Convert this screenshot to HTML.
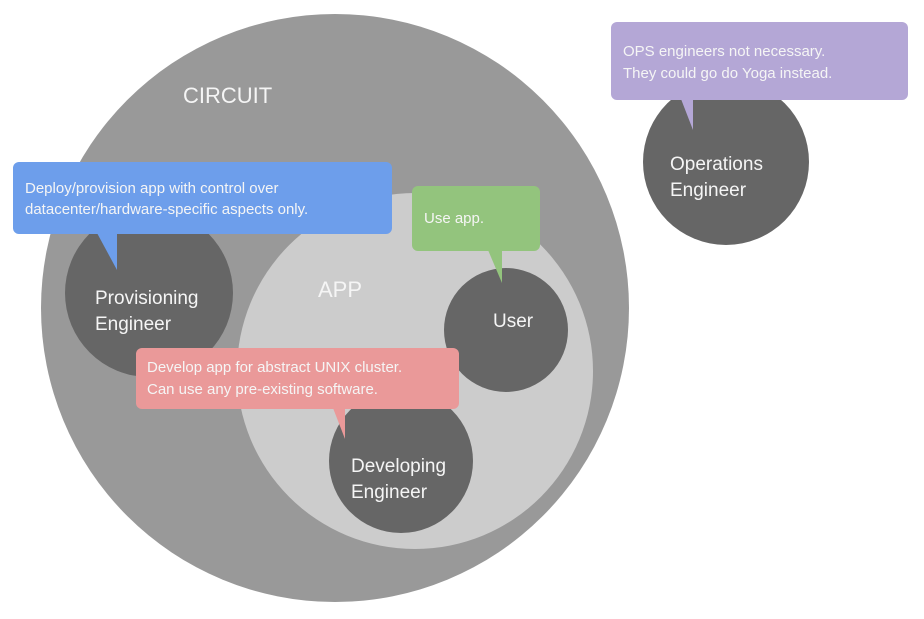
<!DOCTYPE html>
<html><head><meta charset="utf-8"><style>
html,body{margin:0;padding:0;background:#fff}
svg{display:block}
text{font-family:"Liberation Sans",sans-serif;fill:#f5f5f5}
.b{font-size:15px}
.l{font-size:19px}
</style></head><body>
<svg width="924" height="619" viewBox="0 0 924 619">
<circle cx="335" cy="308" r="294" fill="#999999"/>
<circle cx="415" cy="371" r="178" fill="#cccccc"/>
<circle cx="149" cy="293" r="84" fill="#666666"/>
<circle cx="506" cy="330" r="62" fill="#666666"/>
<circle cx="401" cy="461" r="72" fill="#666666"/>
<circle cx="726" cy="162" r="83" fill="#666666"/>

<text x="183" y="103" style="font-size:22px">CIRCUIT</text>
<text x="318" y="297" style="font-size:22px">APP</text>

<text class="l" x="95" y="304">Provisioning</text>
<text class="l" x="95" y="330">Engineer</text>
<text class="l" x="493" y="327">User</text>
<text class="l" x="351" y="472">Developing</text>
<text class="l" x="351" y="498">Engineer</text>
<text class="l" x="670" y="170">Operations</text>
<text class="l" x="670" y="196">Engineer</text>

<rect x="13" y="162" width="379" height="72" rx="6" fill="#6d9eeb"/>
<polygon points="97,233 117,233 117,270" fill="#6d9eeb"/>
<text class="b" x="25" y="193">Deploy/provision app with control over</text>
<text class="b" x="25" y="214">datacenter/hardware-specific aspects only.</text>

<rect x="412" y="186" width="128" height="65" rx="6" fill="#93c47d"/>
<polygon points="488,250 502,250 502,283" fill="#93c47d"/>
<text class="b" x="424" y="223">Use app.</text>

<rect x="136" y="348" width="323" height="61" rx="6" fill="#ea9999"/>
<polygon points="333,408 345,408 345,439" fill="#ea9999"/>
<text class="b" x="147" y="372">Develop app for abstract UNIX cluster.</text>
<text class="b" x="147" y="394">Can use any pre-existing software.</text>

<rect x="611" y="22" width="297" height="78" rx="6" fill="#b4a7d6"/>
<polygon points="681,99 693,99 693,130" fill="#b4a7d6"/>
<text class="b" x="623" y="56">OPS engineers not necessary.</text>
<text class="b" x="623" y="78">They could go do Yoga instead.</text>
</svg>
</body></html>
